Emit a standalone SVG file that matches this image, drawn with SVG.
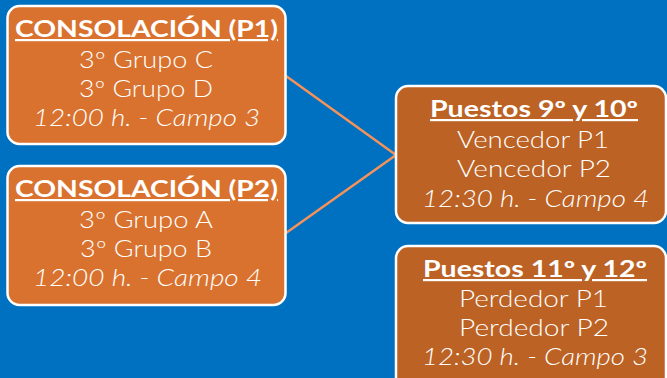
<svg xmlns="http://www.w3.org/2000/svg" width="667" height="378" viewBox="0 0 667 378">
<style>
.bg{fill:#0070C0}
.box{stroke:#FFFFFF;stroke-width:2.5}
.a{fill:#D9722E}
.b{fill:#BC6224}
.conn{stroke:#F4925A;stroke-width:2.5;fill:none}
text{font-family:Lato,"Open Sans",sans-serif;fill:#FFFFFF;text-anchor:middle;font-size:23px;font-weight:300}
.t{font-weight:bold;font-size:22px;text-decoration:underline}
.i{font-style:italic}
</style>
<rect class="bg" x="0" y="0" width="667" height="378"/>
<g id="connectors">
<line class="conn" x1="286" y1="76" x2="396" y2="155"/>
<line class="conn" x1="286" y1="233" x2="396" y2="155"/>
</g>
<g id="p1">
<rect class="box a" x="7.5" y="6" width="278" height="138" rx="12"/>
<text class="t" x="146.5" y="37" textLength="263" lengthAdjust="spacingAndGlyphs">CONSOLACIÓN (P1)</text>
<text x="146" y="68" textLength="134" lengthAdjust="spacingAndGlyphs">3º Grupo C</text>
<text x="146" y="97" textLength="134" lengthAdjust="spacingAndGlyphs">3º Grupo D</text>
<text class="i" x="146.5" y="126" textLength="227" lengthAdjust="spacingAndGlyphs">12:00 h. - Campo 3</text>
</g>
<g id="p2">
<rect class="box a" x="7.5" y="166" width="278" height="139" rx="12"/>
<text class="t" x="146.5" y="197" textLength="263" lengthAdjust="spacingAndGlyphs">CONSOLACIÓN (P2)</text>
<text x="146" y="228" textLength="134" lengthAdjust="spacingAndGlyphs">3º Grupo A</text>
<text x="146" y="257" textLength="132" lengthAdjust="spacingAndGlyphs">3º Grupo B</text>
<text class="i" x="147.5" y="286" textLength="229" lengthAdjust="spacingAndGlyphs">12:00 h. - Campo 4</text>
</g>
<g id="p9">
<rect class="box b" x="396" y="86" width="270" height="137" rx="12"/>
<text class="t" x="534" y="117" textLength="208" lengthAdjust="spacingAndGlyphs">Puestos 9º y 10º</text>
<text x="533" y="148" textLength="152" lengthAdjust="spacingAndGlyphs">Vencedor P1</text>
<text x="534" y="177" textLength="154" lengthAdjust="spacingAndGlyphs">Vencedor P2</text>
<text class="i" x="535.5" y="207" textLength="227" lengthAdjust="spacingAndGlyphs">12:30 h. - Campo 4</text>
</g>
<g id="p11">
<rect class="box b" x="396" y="246" width="270" height="150" rx="12"/>
<text class="t" x="535" y="277" textLength="224" lengthAdjust="spacingAndGlyphs">Puestos 11º y 12º</text>
<text x="533.5" y="307" textLength="149" lengthAdjust="spacingAndGlyphs">Perdedor P1</text>
<text x="534" y="336" textLength="150" lengthAdjust="spacingAndGlyphs">Perdedor P2</text>
<text class="i" x="535" y="365" textLength="226" lengthAdjust="spacingAndGlyphs">12:30 h. - Campo 3</text>
</g>
</svg>
